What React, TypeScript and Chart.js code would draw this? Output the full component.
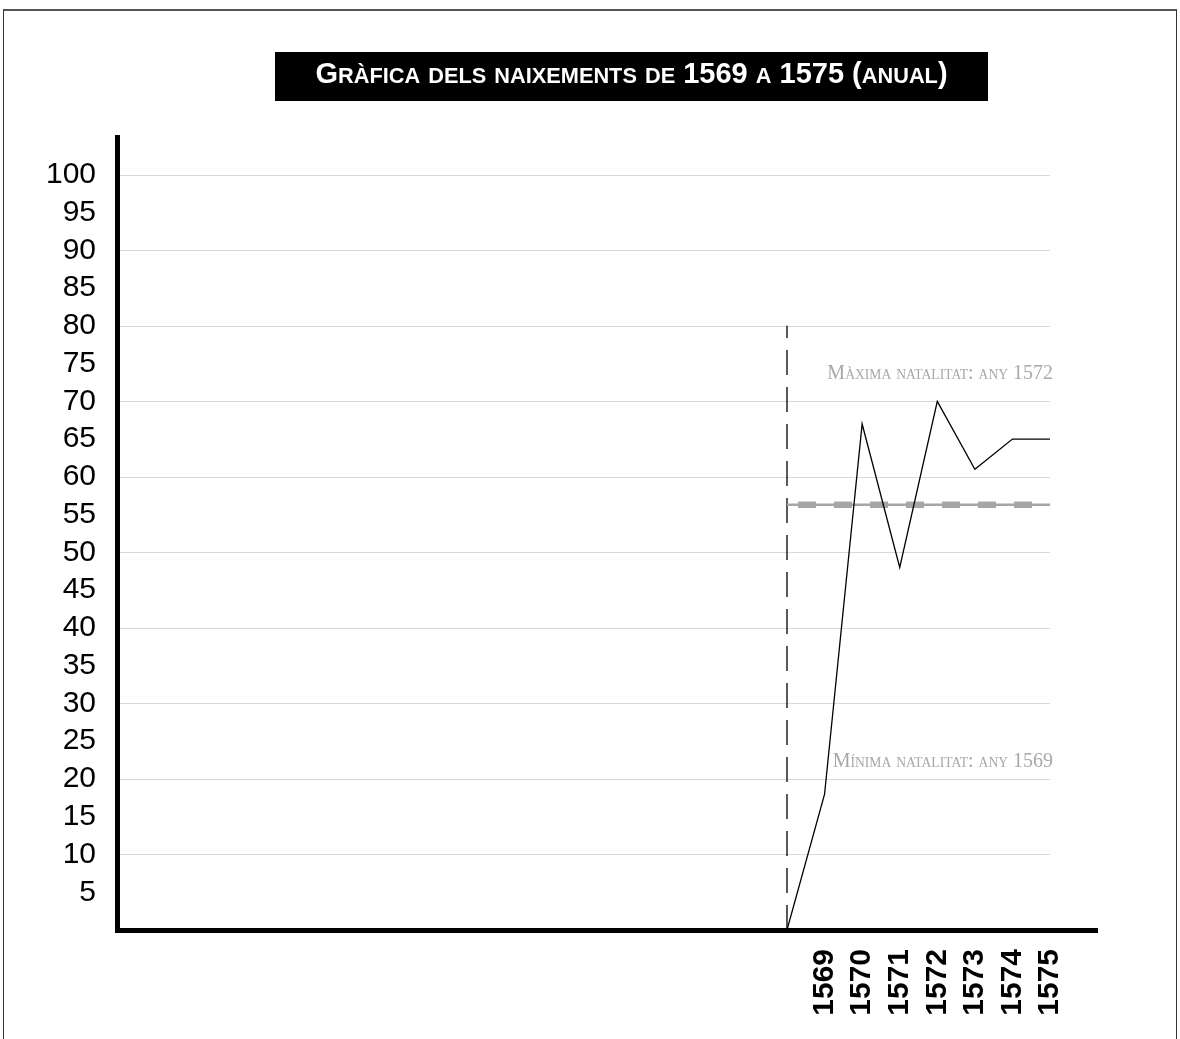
import React, { useEffect, useRef } from 'react';
import { Chart, registerables } from 'chart.js';

Chart.register(...registerables);

// ---- data ----
const years = [1568, 1569, 1570, 1571, 1572, 1573, 1574, 1575];
const births = [0, 18, 67, 48, 70, 61, 65, 65];
const tickYears = [1569, 1570, 1571, 1572, 1573, 1574, 1575];
const yTickValues = [5, 10, 15, 20, 25, 30, 35, 40, 45, 50, 55, 60, 65, 70, 75, 80, 85, 90, 95, 100];
const gridValues = [10, 20, 30, 40, 50, 60, 70, 80, 90, 100];
const markerYear = [1568];
const markerRange = [0, 80];
const averageYears = [1568, 1575];
const averageValue = [56.3];
const titleText = 'Gràfica dels naixements de 1569 a 1575 (anual)';
const maxNote = 'Màxima natalitat: any 1572';
const minNote = 'Mínima natalitat: any 1569';
const maxNoteValue = [72.9];
const minNoteValue = [21.6];
const xRange = [1550.17, 1576.25];
const yRange = [0, 105];

type Run = { t: string; s: number; w: number };

function drawSmallCaps(
  ctx: CanvasRenderingContext2D,
  text: string,
  x: number,
  y: number,
  size: number,
  weight: string,
  family: string,
  ratio: number,
  align: 'left' | 'right' | 'center'
) {
  const runs: Run[] = [];
  for (const ch of text) {
    const lower = ch !== ch.toUpperCase();
    const c = lower ? ch.toUpperCase() : ch;
    const s = lower ? size * ratio : size;
    if (runs.length && runs[runs.length - 1].s === s) runs[runs.length - 1].t += c;
    else runs.push({ t: c, s, w: 0 });
  }
  let total = 0;
  for (const r of runs) {
    ctx.font = `${weight} ${r.s}px ${family}`;
    r.w = ctx.measureText(r.t).width;
    total += r.w;
  }
  let cx = align === 'right' ? x - total : align === 'center' ? x - total / 2 : x;
  ctx.textAlign = 'left';
  ctx.textBaseline = 'alphabetic';
  for (const r of runs) {
    ctx.font = `${weight} ${r.s}px ${family}`;
    ctx.fillText(r.t, cx, y);
    cx += r.w;
  }
}

const decorPlugin = {
  id: 'decor',
  beforeDatasetsDraw(chart: any) {
    const { ctx, chartArea, scales } = chart;
    const xs = scales.x;
    const ys = scales.y;
    const right = xs.getPixelForValue(years[years.length - 1]);
    ctx.save();
    ctx.strokeStyle = '#d9d9d9';
    ctx.lineWidth = 1;
    for (const v of gridValues) {
      const y = Math.round(ys.getPixelForValue(v)) + 0.5;
      ctx.beginPath();
      ctx.moveTo(chartArea.left + 3, y);
      ctx.lineTo(right, y);
      ctx.stroke();
    }
    ctx.restore();
  },
  afterDraw(chart: any) {
    const { ctx, scales } = chart;
    const xs = scales.x;
    const ys = scales.y;
    const right = xs.getPixelForValue(years[years.length - 1]) + 3;
    ctx.save();
    // title
    ctx.fillStyle = '#000';
    ctx.fillRect(275, 52, 713, 49);
    ctx.fillStyle = '#fff';
    drawSmallCaps(ctx, titleText, 631.5, 82.5, 29, 'bold', '"Liberation Sans", Arial, sans-serif', 0.75, 'center');
    // notes
    ctx.fillStyle = '#a8a8a8';
    drawSmallCaps(ctx, maxNote, right, ys.getPixelForValue(maxNoteValue[0]), 20, 'normal', '"Liberation Serif", serif', 0.68, 'right');
    drawSmallCaps(ctx, minNote, right, ys.getPixelForValue(minNoteValue[0]), 20, 'normal', '"Liberation Serif", serif', 0.68, 'right');
    ctx.restore();
  },
};

export default function App() {
  const ref = useRef<HTMLCanvasElement | null>(null);
  useEffect(() => {
    document.body.style.overflow = 'hidden';
    const canvas = ref.current;
    if (!canvas) return;
    const chart = new Chart(canvas, {
      type: 'line',
      data: {
        datasets: [
          {
            label: 'Naixements',
            data: years.map((y, i) => ({ x: y, y: births[i] })),
            borderColor: '#000',
            borderWidth: 1.3,
            pointRadius: 0,
            tension: 0,
            order: 1,
          },
          {
            label: 'Mitjana',
            data: averageYears.map((y) => ({ x: y, y: averageValue[0] })),
            borderColor: '#a6a6a6',
            borderWidth: 2.5,
            pointRadius: 0,
            order: 3,
          },
          {
            label: 'Mitjana (guions)',
            data: averageYears.map((y) => ({ x: y, y: averageValue[0] })),
            borderColor: '#a6a6a6',
            borderWidth: 6.5,
            borderDash: [18, 18],
            borderDashOffset: 25,
            borderCapStyle: 'butt',
            pointRadius: 0,
            order: 2,
          },
          {
            label: 'Inici',
            data: markerRange.map((v) => ({ x: markerYear[0], y: v })),
            borderColor: '#000',
            borderWidth: 1.3,
            borderDash: [25, 12],
            pointRadius: 0,
            order: 4,
          },
        ],
      },
      options: {
        responsive: false,
        animation: false,
        devicePixelRatio: 1,
        layout: { padding: { left: 0, top: 137, right: 83, bottom: 0 } },
        plugins: {
          legend: { display: false },
          tooltip: { enabled: false },
          title: { display: false },
        },
        scales: {
          x: {
            type: 'linear',
            min: xRange[0],
            max: xRange[1],
            grid: { display: false },
            border: { display: true, color: '#000', width: 5 },
            afterBuildTicks(scale: any) {
              scale.ticks = tickYears.map((v) => ({ value: v }));
            },
            afterFit(scale: any) {
              scale.height = 109;
            },
            ticks: {
              autoSkip: false,
              minRotation: 90,
              maxRotation: 90,
              padding: 11,
              color: '#000',
              font: { family: '"Liberation Sans", Arial, sans-serif', size: 30, weight: 'bold' },
              callback: (v: any) => String(v),
            },
          },
          y: {
            type: 'linear',
            min: yRange[0],
            max: yRange[1],
            grid: { display: false },
            border: { display: true, color: '#000', width: 5 },
            afterBuildTicks(scale: any) {
              scale.ticks = yTickValues.map((v) => ({ value: v }));
            },
            afterFit(scale: any) {
              scale.width = 117;
            },
            ticks: {
              autoSkip: false,
              padding: 13,
              color: '#000',
              font: { family: '"Liberation Sans", Arial, sans-serif', size: 30 },
              callback: (v: any) => String(v),
            },
          },
        },
      },
      plugins: [decorPlugin],
    } as any);
    return () => chart.destroy();
  }, []);

  return (
    <>
      <div
        style={{
          position: 'absolute',
          left: 3,
          top: 9,
          width: 1174,
          height: 1030,
          boxSizing: 'border-box',
          border: '1px solid #333',
          borderTop: '2px solid #555',
          borderBottom: 'none',
        }}
      />
      <canvas
        ref={ref}
        width={1180}
        height={1039}
        style={{ position: 'absolute', left: 0, top: 0, width: 1180, height: 1039 }}
      />
    </>
  );
}
